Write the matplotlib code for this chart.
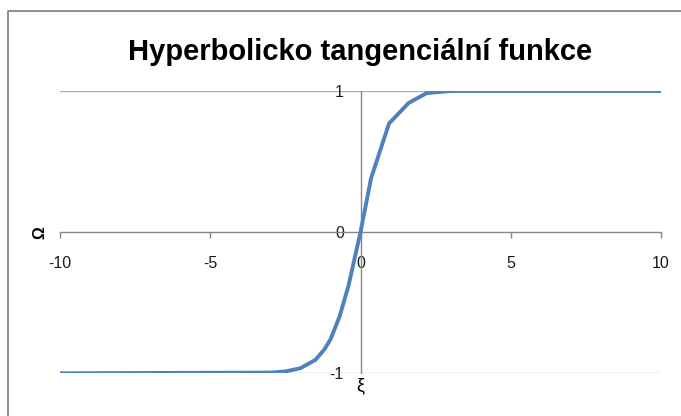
import matplotlib.pyplot as plt
from matplotlib.lines import Line2D

plt.rcParams["font.family"] = ["Liberation Sans", "DejaVu Sans"]
plt.rcParams["axes.unicode_minus"] = False

# tanh samples
xi = [-10, -3, -2.5, -2, -1.5, -1.2, -1, -0.7, -0.4, 0, 0.35, 0.95, 1.6, 2.2, 3, 10]
omega = [-1.0, -0.995, -0.987, -0.964, -0.905, -0.83, -0.76, -0.6, -0.38, 0.0,
         0.38, 0.77, 0.915, 0.985, 1.0, 1.0]

x_ticks = [-10, -5, 0, 5, 10]
y_ticks = [-1, 0, 1]

gray = "#868686"
blue = "#4F81BD"
grid_blue = "#95B3D7"

fig = plt.figure(figsize=(6.81, 4.16), dpi=100)

# chart frame: only left and top edges fall inside the canvas
left = 7.5 / 681
top = 1 - 10.5 / 416
fig.add_artist(Line2D([left, left, 1.0], [0.0, top, top],
                      transform=fig.transFigure, color=gray, linewidth=1.3))

ax = fig.add_axes([60 / 681, 1 - 373.3 / 416, 601 / 681, 282.3 / 416])
ax.set_xlim(-10, 10)
ax.set_ylim(-1, 1)

for v in (-1, 1):
    ax.axhline(v, color=grid_blue, linewidth=1, zorder=1)

ax.plot(xi, omega, color=blue, linewidth=2.8, solid_joinstyle="round",
        solid_capstyle="round", zorder=3)

for s in ("top", "right"):
    ax.spines[s].set_visible(False)
ax.spines["left"].set_position(("data", 0))
ax.spines["bottom"].set_position(("data", 0))
for s in ("left", "bottom"):
    ax.spines[s].set_color(gray)
    ax.spines[s].set_linewidth(1)
    ax.spines[s].set_zorder(2)

ax.set_xticks(x_ticks)
ax.set_yticks(y_ticks)
ax.tick_params(axis="x", direction="out", length=4, width=1, color=gray,
               pad=13, labelsize=11.5, labelcolor="#1a1a1a")
ax.tick_params(axis="y", length=0, pad=12, labelsize=11.5,
               labelcolor="#1a1a1a")
ax.patch.set_visible(False)

fig.text(360 / 681, 1 - 52 / 416, "Hyperbolicko tangenciální funkce",
         ha="center", va="center", fontsize=21, fontweight="bold")
fig.text(40 / 681, 1 - 233 / 416, "Ω", rotation=90, ha="center", va="center",
         fontsize=11.5, fontweight="bold")
fig.text(360 / 681, 1 - 386 / 416, "ξ", ha="center", va="center",
         fontsize=13)

fig.savefig("out.png", dpi=100)
